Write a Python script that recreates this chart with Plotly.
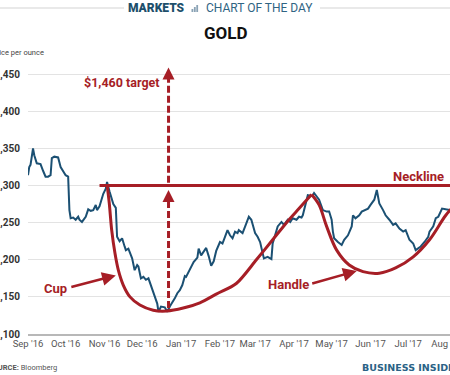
import plotly.graph_objects as go

# ---------------- data ----------------
dates = ["2016-09-01","2016-09-02","2016-09-03","2016-09-05","2016-09-06","2016-09-08","2016-09-11","2016-09-12",
 "2016-09-13","2016-09-15","2016-09-17","2016-09-19","2016-09-20","2016-09-22","2016-09-25","2016-09-27","2016-09-29",
 "2016-10-01","2016-10-03","2016-10-04","2016-10-05","2016-10-07","2016-10-09","2016-10-11","2016-10-12","2016-10-14",
 "2016-10-17","2016-10-19","2016-10-21","2016-10-23","2016-10-25","2016-10-26","2016-10-28","2016-10-29","2016-10-31",
 "2016-11-02","2016-11-03","2016-11-05","2016-11-07","2016-11-08","2016-11-10","2016-11-11","2016-11-13","2016-11-15",
 "2016-11-17","2016-11-18","2016-11-20","2016-11-22","2016-11-23","2016-11-25","2016-11-27","2016-11-28","2016-11-30",
 "2016-12-02","2016-12-04","2016-12-06","2016-12-07","2016-12-09","2016-12-12","2016-12-13","2016-12-14","2016-12-16",
 "2016-12-19","2016-12-21","2016-12-23","2016-12-25","2016-12-27","2016-12-29","2016-12-31","2017-01-02","2017-01-04",
 "2017-01-05","2017-01-07","2017-01-09","2017-01-11","2017-01-14","2017-01-15","2017-01-17","2017-01-19","2017-01-21",
 "2017-01-23","2017-01-25","2017-01-27","2017-01-29","2017-02-01","2017-02-03","2017-02-05","2017-02-07","2017-02-09",
 "2017-02-11","2017-02-13","2017-02-15","2017-02-16","2017-02-19","2017-02-22","2017-02-24","2017-02-26","2017-02-27",
 "2017-03-01","2017-03-03","2017-03-05","2017-03-07","2017-03-08","2017-03-11","2017-03-14","2017-03-15","2017-03-16",
 "2017-03-19","2017-03-22","2017-03-24","2017-03-27","2017-03-29","2017-03-31","2017-04-03","2017-04-05","2017-04-07",
 "2017-04-08","2017-04-10","2017-04-12","2017-04-15","2017-04-16","2017-04-17","2017-04-19","2017-04-21","2017-04-24",
 "2017-04-27","2017-04-29","2017-05-01","2017-05-02","2017-05-03","2017-05-06","2017-05-09","2017-05-11","2017-05-14",
 "2017-05-17","2017-05-18","2017-05-20","2017-05-23","2017-05-25","2017-05-27","2017-05-30","2017-06-01","2017-06-04",
 "2017-06-06","2017-06-08","2017-06-11","2017-06-13","2017-06-16","2017-06-19","2017-06-21","2017-06-24","2017-06-27",
 "2017-06-29","2017-07-02","2017-07-05","2017-07-07","2017-07-09","2017-07-11","2017-07-14","2017-07-17","2017-07-18",
 "2017-07-21","2017-07-23","2017-07-25","2017-07-28","2017-07-31","2017-08-03"]
prices = [1314,1325,1328,1350,1341,1330,1329,1323,
 1320,1312,1312,1314,1337,1339,1338,1325,1319,
 1314,1312,1267,1256,1257,1254,1258,1254,1251,
 1258,1268,1266,1267,1274,1267,1272,1278,1289,
 1296,1305,1292,1278,1275,1270,1231,1225,1229,
 1218,1213,1215,1206,1202,1186,1193,1191,1175,
 1177,1173,1175,1170,1161,1148,1141,1130,1137,
 1136,1130,1137,1142,1148,1155,1159,1166,1178,
 1177,1184,1191,1197,1203,1215,1206,1211,1216,
 1205,1192,1198,1212,1224,1222,1231,1240,1233,
 1229,1238,1236,1240,1236,1249,1258,1254,1249,
 1236,1231,1224,1209,1202,1204,1201,1222,1227,
 1245,1251,1247,1254,1251,1256,1254,1258,1257,
 1260,1274,1287,1286,1287,1290,1285,1281,1267,
 1265,1265,1254,1238,1229,1224,1220,1227,1233,
 1245,1260,1256,1260,1265,1267,1269,1274,1281,
 1294,1276,1267,1260,1254,1247,1249,1242,1238,
 1240,1227,1222,1213,1215,1218,1224,1231,1238,
 1245,1256,1258,1269,1268,1267]

# pattern annotations (anchor points of the hand-drawn curves)
cup_dates = ["2016-11-03","2016-11-04 19:00","2016-11-06 17:00","2016-11-09 07:00","2016-11-12",
             "2016-11-15 22:00","2016-11-21 07:00","2016-11-29 05:00","2016-12-09 19:00","2016-12-20 12:00",
             "2017-01-02 17:00","2017-01-16","2017-01-29 10:00","2017-02-14","2017-03-02","2017-03-15",
             "2017-03-28","2017-04-05","2017-04-15"]
cup_values = [1302,1276,1240,1209,1186,1166,1150,1139,1132,1131,1135,1142,1154,1168,1200,1227,1254,1269,1288]
handle_dates = ["2017-04-15","2017-04-21","2017-04-27","2017-05-05","2017-05-15","2017-05-26","2017-06-08",
                "2017-06-21","2017-07-05","2017-07-18","2017-07-31","2017-08-08"]
handle_values = [1288,1274,1245,1213,1193,1184,1182,1189,1204,1227,1260,1275]
neckline_value = 1300
neckline_start = "2016-10-28"
target_value = 1460
target_date = "2016-12-22"
cup_bottom = 1135

y_ticks = [1100, 1150, 1200, 1250, 1300, 1350, 1400, 1450]

RED = "#a61e26"
BLUE = "#1b5073"

# plot area in pixels
L, R, T, B = 28, 450, 60, 334
W, H = R - L, B - T
def px(p):
    return (p - L) / W
def py(p):
    return (B - p) / H

fig = go.Figure()

# price line
fig.add_trace(go.Scatter(x=dates, y=prices, mode="lines",
                         line=dict(color=BLUE, width=2), hoverinfo="skip"))
# cup & handle curves
fig.add_trace(go.Scatter(x=cup_dates, y=cup_values, mode="lines",
                         line=dict(color=RED, width=3, shape="spline", smoothing=0.8), hoverinfo="skip"))
fig.add_trace(go.Scatter(x=handle_dates, y=handle_values, mode="lines",
                         line=dict(color=RED, width=3, shape="spline", smoothing=1.0), hoverinfo="skip"))
# dashed target lines
fig.add_trace(go.Scatter(x=[target_date, target_date], y=[cup_bottom, neckline_value - 20], mode="lines",
                         line=dict(color=RED, width=3, dash="7px,3px"), hoverinfo="skip"))
fig.add_trace(go.Scatter(x=[target_date, target_date], y=[neckline_value + 4, target_value - 16], mode="lines",
                         line=dict(color=RED, width=3, dash="7px,3px"), hoverinfo="skip"))
# arrowheads
fig.add_trace(go.Scatter(x=[target_date, target_date], y=[neckline_value - 6, target_value - 1], mode="markers",
                         marker=dict(symbol="arrow-up", size=12, color=RED, line=dict(width=0)),
                         hoverinfo="skip"))

# neckline
fig.add_shape(type="line", xref="x", yref="y", x0=neckline_start, x1="2017-08-20",
              y0=neckline_value, y1=neckline_value, line=dict(color=RED, width=3))

ann = []
lab_font = dict(family="Roboto", size=13, color=RED, weight=700)
ann.append(dict(text="Neckline", xref="paper", yref="paper", x=px(446), y=py(176),
                xanchor="right", yanchor="middle", showarrow=False, font=lab_font))
ann.append(dict(text="$1,460 target", xref="paper", yref="paper", x=px(162), y=py(82),
                xanchor="right", yanchor="middle", showarrow=False,
                font=dict(family="Roboto", size=12.5, color=RED, weight=700)))
ann.append(dict(text="Cup", xref="paper", yref="paper", x=px(69), y=py(288),
                xanchor="right", yanchor="middle", showarrow=False, font=lab_font))
ann.append(dict(text="Handle", xref="paper", yref="paper", x=px(311), y=py(284),
                xanchor="right", yanchor="middle", showarrow=False, font=lab_font))
# pointer arrows
ann.append(dict(text="", x="2016-11-10", y=1179, xref="x", yref="y", ax=-46, ay=12,
                showarrow=True, arrowhead=2, arrowsize=1.1, arrowwidth=2.5, arrowcolor=RED, standoff=0))
ann.append(dict(text="", x="2017-05-21", y=1185, xref="x", yref="y", ax=-46, ay=13,
                showarrow=True, arrowhead=2, arrowsize=1.1, arrowwidth=2.5, arrowcolor=RED, standoff=0))

# header texts
ann.append(dict(text="MARKETS", xref="paper", yref="paper", x=px(187), y=py(8), xanchor="right",
                yanchor="middle", showarrow=False,
                font=dict(family="Roboto", size=12, color="#1d4f6b", weight=900)))
ann.append(dict(text="CHART OF THE DAY", xref="paper", yref="paper", x=px(204), y=py(8), xanchor="left",
                yanchor="middle", showarrow=False,
                font=dict(family="Roboto", size=12, color="#2f6483", weight=400)))
ann.append(dict(text="GOLD", xref="paper", yref="paper", x=px(225.5), y=py(33), xanchor="center",
                yanchor="middle", showarrow=False,
                font=dict(family="Roboto", size=17, color="#111111", weight=700)))
ann.append(dict(text="Price per ounce", xref="paper", yref="paper", x=px(-10), y=py(53), xanchor="left",
                yanchor="middle", showarrow=False,
                font=dict(family="Roboto", size=7.5, color="#444444")))
ann.append(dict(text="<b>SOURCE:</b> Bloomberg", xref="paper", yref="paper", x=px(-14), y=py(367),
                xanchor="left", yanchor="middle", showarrow=False,
                font=dict(family="Roboto", size=7.5, color="#555555")))
ann.append(dict(text="BUSINESS INSIDER", xref="paper", yref="paper", x=px(360), y=py(367),
                xanchor="left", yanchor="middle", showarrow=False,
                font=dict(family="DejaVu Sans", size=9.5, color="#2a6286", weight=700)))

# header rules and small icon
shapes = [
    dict(type="line", xref="paper", yref="paper", x0=px(0), x1=px(124), y0=py(8), y1=py(8),
         line=dict(color="#e2e2e2", width=1.5)),
    dict(type="line", xref="paper", yref="paper", x0=px(320), x1=px(452), y0=py(8), y1=py(8),
         line=dict(color="#e2e2e2", width=1.5)),
]
for i, hgt in enumerate([3, 5, 7]):
    x0 = 191.5 + i * 2.4
    shapes.append(dict(type="rect", xref="paper", yref="paper", x0=px(x0), x1=px(x0 + 1.8),
                       y0=py(12), y1=py(12 - hgt), line=dict(width=0), fillcolor="#8aa3b5"))
for s in shapes:
    fig.add_shape(**s)

fig.update_layout(
    width=450, height=375,
    margin=dict(l=L, r=450 - R, t=T, b=375 - B, pad=0),
    paper_bgcolor="white", plot_bgcolor="white",
    showlegend=False,
    annotations=ann,
    font=dict(family="Roboto"),
    xaxis=dict(type="date", range=["2016-09-01", "2017-08-03 08:00"], tick0="2016-09-01", dtick="M1",
               tickformat="%b '%y", showgrid=False, showline=True, linecolor="#b8b8b8", linewidth=2,
               ticks="", tickfont=dict(family="Roboto", size=9.5, color="#555555"),
               ticklabeloverflow="allow",
               automargin=False, zeroline=False, fixedrange=True),
    yaxis=dict(range=[1100, 1100 + H / 0.742], tickvals=y_ticks, tickprefix="$", tickformat=",",
               showgrid=True, gridcolor="#e3e3e3", gridwidth=1, showline=False, zeroline=False,
               ticks="", ticklabelstandoff=7, ticklabeloverflow="allow",
               tickfont=dict(family="Roboto", size=10, color="#333333", weight=700),
               automargin=False, fixedrange=True),
)

fig.write_html("out.html", config={"displayModeBar": False},
               post_script="document.body.style.margin='0';document.body.style.overflow='hidden';")
